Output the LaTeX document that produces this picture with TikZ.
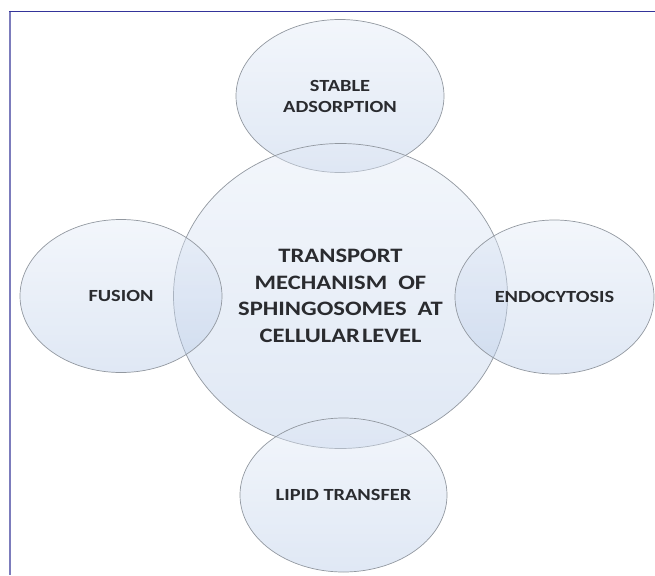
\documentclass[tikz,border=0pt]{standalone}
\usepackage{fontspec}
\setmainfont{Carlito}[FakeStretch=1.2]
\usetikzlibrary{shapes.geometric}

\definecolor{bubbletop}{HTML}{E2EAF6}
\definecolor{bubblebot}{HTML}{B4C8E6}
\definecolor{bubbleline}{HTML}{9298A0}
\definecolor{labeltext}{HTML}{2A2B2F}
\definecolor{frametop}{HTML}{34349A}
\definecolor{frameleft}{HTML}{7C7CBC}

\tikzset{
  bubble/.style={ellipse, draw=bubbleline, line width=0.7pt,
    top color=bubbletop, bottom color=bubblebot, fill opacity=0.42,
    draw opacity=1, text opacity=1, inner sep=0pt, align=center,
    text=labeltext, font=\bfseries\fontsize{17}{21}\selectfont},
  hub/.style={bubble, font=\bfseries\fontsize{20.5}{26.5}\selectfont}
}

\begin{document}
\begin{tikzpicture}[x=1pt,y=-1pt]
    \useasboundingbox (0,0) rectangle (655,575);

    % frame lines
    \draw[frameleft, line width=2pt] (9.5,11) -- (9.5,575);
    \draw[frametop, line width=1.5pt] (9,11.5) -- (655,11.5);

    % outer bubbles and the centre one
    \node[bubble, minimum width=208, minimum height=153] (adsorb) at (340,96)
        {STABLE\\ADSORPTION};
    \node[hub, minimum width=334, minimum height=305] (centre) at (340.5,296)
        {TRANSPORT\\MECHANISM\ \ OF\\SPHINGOSOMES\ \ AT\\CELLULAR\hspace{0.1em}LEVEL};
    \node[bubble, minimum width=202, minimum height=153] (fusion) at (121,296)
        {FUSION};
    \node[bubble, minimum width=199, minimum height=154] (endo) at (554.5,297)
        {ENDOCYTOSIS};
    \node[bubble, minimum width=207, minimum height=154] (lipid) at (343.5,495)
        {LIPID TRANSFER};
\end{tikzpicture}
\end{document}
